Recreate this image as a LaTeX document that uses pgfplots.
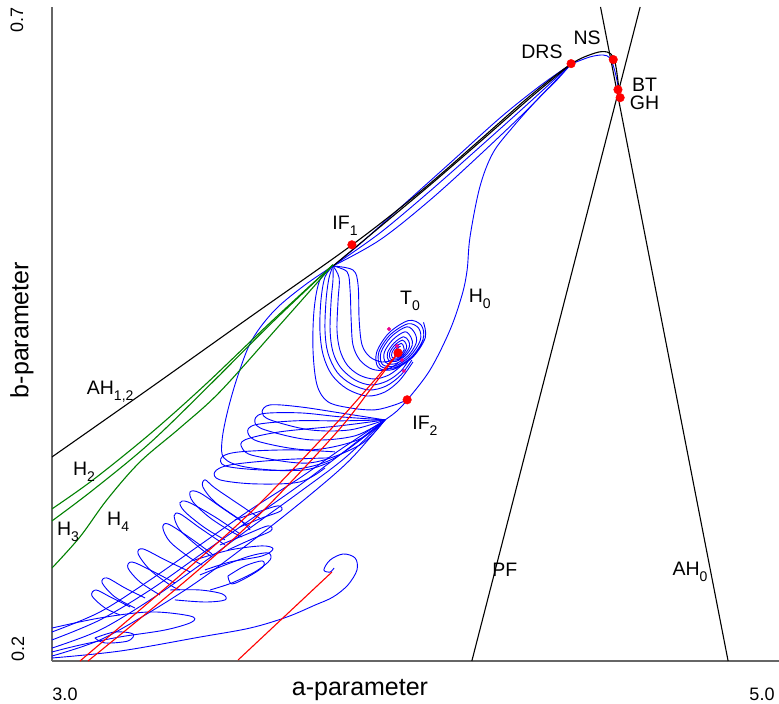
\documentclass[border=0pt]{standalone}
\usepackage{fontspec}
\setmainfont{Liberation Sans}
\usepackage{pgfplots}
\pgfplotsset{compat=1.18}
\newcommand\sub[1]{\raisebox{-6pt}{\fontsize{14}{14}\selectfont #1}}
\tikzset{
 bl/.style={blue, line width=0.9pt, smooth, tension=0.55},
 bk/.style={black, line width=1.1pt, smooth, tension=0.55},
 gr/.style={green!50!black, line width=1.1pt, smooth, tension=0.55},
 rd/.style={red, line width=1.1pt, smooth, tension=0.55},
 lab/.style={font=\fontsize{19.5}{22}\selectfont, inner sep=0pt},
}
\begin{document}
\begin{tikzpicture}
\begin{axis}[
 at={(0pt,0pt)}, anchor=south west,
 scale only axis, width=727pt, height=654pt,
 xmin=3, xmax=5, ymin=0.2, ymax=0.7,
 axis x line=bottom, axis y line=left,
 axis line style={-, draw=black!60, line width=1.3pt},
 xtick=\empty, ytick=\empty,
 clip mode=individual,
]
% ---------- blue: upper bundle to DRS ----------
\addplot[bl] coordinates {(3.773,0.5020)(3.847,0.5188)(3.957,0.5463)(4.095,0.5807)(4.232,0.6151)(4.342,0.6396)(4.428,0.6564)};
\addplot[bl] coordinates {(3.773,0.5020)(3.902,0.5272)(4.040,0.5593)(4.177,0.5930)(4.315,0.6274)(4.428,0.6564)};
\addplot[bl] coordinates {(3.773,0.5020)(3.902,0.5219)(4.040,0.5524)(4.177,0.5869)(4.315,0.6235)(4.428,0.6564)};
\addplot[bl] coordinates {(4.428,0.6564)(4.480,0.6618)(4.516,0.6633)(4.535,0.6610)(4.546,0.6534)(4.554,0.6442)(4.560,0.6350)};
% ---------- H0 ----------
\addplot[bl] coordinates {(3.916,0.3843)(3.946,0.3904)(3.977,0.3995)(4.040,0.4225)(4.095,0.4531)(4.128,0.4798)(4.142,0.4989)(4.150,0.5242)(4.177,0.5624)(4.213,0.5884)(4.268,0.6083)(4.334,0.6289)(4.389,0.6442)(4.428,0.6564)};
% ---------- big loop ----------
\addplot[bl] coordinates {(3.773,0.5020)(3.696,0.4875)(3.613,0.4683)(3.550,0.4454)(3.512,0.4187)(3.484,0.3920)(3.468,0.3691)(3.473,0.3553)(3.531,0.3484)(3.655,0.3461)(3.778,0.3553)(3.916,0.3843)};
% ---------- hooks ----------
\addplot[bl] coordinates {(3.773,0.5020)(3.737,0.4913)(3.721,0.4685)(3.718,0.4379)(3.729,0.4111)(3.759,0.3982)(3.820,0.3935)(3.888,0.3920)(3.943,0.3958)(3.977,0.3997)};
\addplot[bl] coordinates {(3.773,0.5020)(3.751,0.4936)(3.740,0.4760)(3.737,0.4531)(3.746,0.4339)(3.770,0.4187)(3.812,0.4080)(3.867,0.4026)(3.916,0.4057)(3.957,0.4148)(3.993,0.4286)};
\addplot[bl] coordinates {(3.773,0.5020)(3.762,0.4928)(3.754,0.4760)(3.751,0.4531)(3.759,0.4355)(3.784,0.4209)(3.823,0.4118)(3.872,0.4072)(3.919,0.4102)(3.960,0.4187)(3.990,0.4301)};
\addplot[bl] coordinates {(3.773,0.5020)(3.773,0.4913)(3.768,0.4760)(3.765,0.4531)(3.773,0.4362)(3.795,0.4240)(3.834,0.4148)(3.878,0.4110)(3.922,0.4141)(3.960,0.4217)(3.985,0.4317)};
\addplot[bl] coordinates {(3.773,0.5020)(3.790,0.4928)(3.787,0.4760)(3.784,0.4531)(3.792,0.4378)(3.812,0.4263)(3.845,0.4187)(3.886,0.4156)(3.927,0.4187)(3.960,0.4255)};
\addplot[bl] coordinates {(3.773,0.5020)(3.812,0.4974)(3.820,0.4836)(3.823,0.4607)(3.828,0.4416)(3.847,0.4301)(3.880,0.4232)(3.919,0.4225)(3.952,0.4278)};
\addplot[bl] coordinates {(3.773,0.5020)(3.828,0.4989)(3.842,0.4875)(3.845,0.4607)(3.853,0.4416)(3.875,0.4324)(3.908,0.4286)(3.941,0.4301)};
% ---------- spiral T0 ----------
\addplot[bl] coordinates {
(4.022,0.4589)(4.027,0.4473)(3.993,0.4324)(3.939,0.4229)(3.898,0.4243)(3.893,0.4359)(3.927,0.4508)(3.981,0.4603)
(4.016,0.4566)(4.021,0.4461)(3.990,0.4327)(3.942,0.4242)(3.904,0.4254)(3.899,0.4359)(3.930,0.4493)(3.979,0.4578)
(4.009,0.4543)(4.013,0.4451)(3.985,0.4331)(3.943,0.4255)(3.909,0.4267)(3.905,0.4359)(3.933,0.4479)(3.976,0.4555)
(3.998,0.4507)(4.002,0.4432)(3.980,0.4335)(3.945,0.4273)(3.918,0.4283)(3.914,0.4358)(3.937,0.4455)(3.971,0.4517)
(3.988,0.4472)(3.991,0.4414)(3.974,0.4339)(3.947,0.4291)(3.926,0.4298)(3.923,0.4356)(3.941,0.4431)(3.967,0.4479)
(3.981,0.4447)(3.983,0.4401)(3.969,0.4341)(3.948,0.4303)(3.931,0.4309)(3.929,0.4355)(3.943,0.4415)(3.964,0.4453)
(3.974,0.4424)(3.975,0.4389)(3.965,0.4344)(3.949,0.4316)(3.936,0.4320)(3.935,0.4355)(3.945,0.4400)(3.961,0.4428)
(3.967,0.4405)(3.969,0.4381)(3.962,0.4352)(3.951,0.4333)(3.943,0.4335)(3.942,0.4359)(3.948,0.4388)(3.959,0.4407)};
% ---------- feather bundle ----------
\addplot[bl] coordinates {(3.916,0.3843)(3.792,0.3614)(3.682,0.3400)(3.545,0.3155)(3.407,0.2887)(3.270,0.2620)(3.132,0.2375)(3.000,0.2222)};
\addplot[bl] coordinates {(3.916,0.3843)(3.792,0.3576)(3.682,0.3346)(3.545,0.3079)(3.407,0.2811)(3.270,0.2543)(3.132,0.2314)(3.000,0.2161)};
\addplot[bl] coordinates {(3.916,0.3843)(3.806,0.3553)(3.682,0.3293)(3.545,0.3017)(3.407,0.2734)(3.270,0.2467)(3.132,0.2237)(3.000,0.2099)};
\addplot[bl] coordinates {(3.916,0.3843)(3.820,0.3538)(3.710,0.3270)(3.572,0.2964)(3.407,0.2620)(3.270,0.2375)(3.132,0.2161)(3.000,0.2038)};
% ---------- feathers ----------
\addplot[bl] coordinates {(3.916,0.3843)(3.792,0.3897)(3.682,0.3943)(3.600,0.3958)(3.578,0.3905)(3.600,0.3844)(3.710,0.3767)(3.820,0.3767)(3.916,0.3843)};
\addplot[bl] coordinates {(3.916,0.3843)(3.792,0.3867)(3.682,0.3897)(3.578,0.3890)(3.558,0.3828)(3.586,0.3767)(3.710,0.3691)(3.833,0.3721)(3.916,0.3843)};
\addplot[bl] coordinates {(3.916,0.3843)(3.792,0.3836)(3.668,0.3836)(3.558,0.3805)(3.539,0.3744)(3.572,0.3675)(3.710,0.3614)(3.842,0.3691)(3.916,0.3843)};
\addplot[bl] coordinates {(3.916,0.3843)(3.792,0.3798)(3.627,0.3752)(3.531,0.3691)(3.523,0.3629)(3.558,0.3568)(3.710,0.3515)(3.847,0.3652)(3.916,0.3843)};
\addplot[bl] coordinates {(3.778,0.3599)(3.655,0.3614)(3.517,0.3599)(3.468,0.3561)(3.476,0.3492)(3.572,0.3461)(3.696,0.3461)(3.765,0.3522)};
\addplot[bl] coordinates {(3.765,0.3553)(3.627,0.3538)(3.490,0.3499)(3.448,0.3446)(3.462,0.3385)(3.558,0.3354)(3.682,0.3369)(3.751,0.3476)};
\addplot[bl] coordinates {(3.578,0.3079)(3.517,0.3193)(3.448,0.3323)(3.421,0.3385)(3.415,0.3331)(3.448,0.3216)(3.517,0.3079)(3.545,0.3002)};
\addplot[bl] coordinates {(3.545,0.3025)(3.476,0.3155)(3.407,0.3285)(3.380,0.3293)(3.388,0.3216)(3.435,0.3094)(3.495,0.2987)(3.523,0.2949)};
\addplot[bl] coordinates {(3.517,0.2972)(3.448,0.3102)(3.374,0.3216)(3.352,0.3209)(3.366,0.3140)(3.421,0.3017)(3.476,0.2926)};
\addplot[bl] coordinates {(3.476,0.2887)(3.407,0.3017)(3.352,0.3125)(3.336,0.3109)(3.352,0.3002)(3.407,0.2864)(3.440,0.2796)};
\addplot[bl] coordinates {(3.440,0.2819)(3.380,0.2941)(3.319,0.3048)(3.305,0.3017)(3.325,0.2910)(3.380,0.2788)(3.413,0.2734)};
\addplot[bl] coordinates {(3.380,0.2681)(3.311,0.2773)(3.250,0.2857)(3.237,0.2819)(3.270,0.2696)(3.325,0.2581)(3.352,0.2543)};
\addplot[bl] coordinates {(3.338,0.2597)(3.270,0.2696)(3.220,0.2757)(3.209,0.2711)(3.242,0.2604)(3.297,0.2505)};
\addplot[bl] coordinates {(3.256,0.2482)(3.201,0.2558)(3.151,0.2635)(3.138,0.2597)(3.173,0.2490)(3.228,0.2405)};
\addplot[bl] coordinates {(3.215,0.2413)(3.160,0.2490)(3.121,0.2543)(3.110,0.2497)(3.146,0.2405)(3.187,0.2352)};
\addplot[bl] coordinates {(3.407,0.2658)(3.476,0.2734)(3.545,0.2803)(3.594,0.2826)(3.600,0.2773)(3.558,0.2681)(3.495,0.2597)(3.435,0.2543)};
\addplot[bl] coordinates {(3.484,0.2650)(3.531,0.2727)(3.578,0.2765)(3.580,0.2719)(3.539,0.2643)(3.495,0.2589)(3.484,0.2650)};
\addplot[bl] coordinates {(3.503,0.3079)(3.567,0.3140)(3.622,0.3186)(3.630,0.3148)(3.578,0.3094)(3.517,0.3025)};
\addplot[bl] coordinates {(3.462,0.2887)(3.531,0.2964)(3.594,0.3033)(3.602,0.2995)(3.545,0.2926)(3.484,0.2849)};
\addplot[bl] coordinates {(3.393,0.2773)(3.490,0.2849)(3.578,0.2880)(3.608,0.2857)(3.578,0.2803)(3.490,0.2757)(3.421,0.2696)};
\addplot[bl] coordinates {(3.325,0.2543)(3.407,0.2543)(3.468,0.2513)(3.476,0.2467)(3.421,0.2451)(3.338,0.2467)};
\addplot[bl] coordinates {(3.000,0.2252)(3.132,0.2329)(3.270,0.2375)(3.380,0.2344)(3.385,0.2298)(3.311,0.2237)(3.187,0.2184)(3.077,0.2122)(3.000,0.2069)};
\addplot[bl] coordinates {(3.118,0.2176)(3.173,0.2222)(3.223,0.2207)(3.209,0.2153)(3.146,0.2138)(3.118,0.2176)};
% ---------- lower curve with small spiral ----------
\addplot[bl] coordinates {(3.000,0.2023)(3.187,0.2076)(3.407,0.2183)(3.545,0.2252)(3.646,0.2336)(3.724,0.2428)(3.773,0.2489)(3.814,0.2581)(3.839,0.2696)(3.834,0.2787)(3.801,0.2818)(3.765,0.2772)(3.748,0.2696)(3.765,0.2680)(3.776,0.2711)};
% ---------- black curves ----------
\addplot[bk] coordinates {(3.000,0.3560)(3.270,0.4087)(3.545,0.4630)(3.825,0.5180)(4.012,0.5586)(4.177,0.5983)(4.315,0.6320)(4.428,0.6564)(4.494,0.6648)(4.527,0.6656)(4.544,0.6618)(4.552,0.6534)(4.560,0.6365)};
\addplot[bk] coordinates {(3.773,0.5020)(3.902,0.5318)(4.040,0.5639)(4.177,0.5968)(4.315,0.6304)(4.428,0.6564)};
\addplot[black, line width=1.1pt] coordinates {(4.155,0.2)(4.618,0.7)};
\addplot[black, line width=1.1pt] coordinates {(4.860,0.2)(4.509,0.7)};
% ---------- green curves ----------
\addplot[gr] coordinates {(3.000,0.3163)(3.113,0.3385)(3.270,0.3737)(3.421,0.4111)(3.600,0.4586)(3.773,0.5029)};
\addplot[gr] coordinates {(3.000,0.3071)(3.113,0.3308)(3.270,0.3668)(3.440,0.4127)(3.605,0.4586)(3.773,0.5029)};
\addplot[gr] coordinates {(3.000,0.2711)(3.077,0.2949)(3.151,0.3232)(3.242,0.3522)(3.352,0.3782)(3.462,0.4058)(3.627,0.4570)(3.773,0.5029)};
% ---------- red curves ----------
\addplot[rd] coordinates {(3.077,0.2000)(3.360,0.2673)(3.553,0.3154)(3.765,0.3766)(3.883,0.4133)(3.952,0.4355)};
\addplot[rd] coordinates {(3.099,0.2000)(3.380,0.2642)(3.572,0.3124)(3.779,0.3735)(3.875,0.4072)(3.952,0.4355)};
\addplot[rd] coordinates {(3.512,0.2008)(3.641,0.2344)(3.770,0.2680)};
% ---------- points ----------
\addplot[only marks, mark=*, mark size=1.8pt, color=magenta] coordinates {(3.927,0.4538)(3.949,0.4408)(3.963,0.4301)(3.968,0.4217)};
\addplot[only marks, mark=*, mark size=4.3pt, color=red] coordinates {(3.825,0.5182)(3.977,0.3997)(4.428,0.6567)(4.544,0.6598)(4.557,0.6368)(4.563,0.6307)(3.952,0.4356)};
% ---------- labels ----------
\node[lab] at (axis cs:4.348,0.6659) {DRS};
\node[lab] at (axis cs:4.472,0.6766) {NS};
\node[lab] at (axis cs:4.630,0.6406) {BT};
\node[lab] at (axis cs:4.630,0.6269) {GH};
\node[lab] at (axis cs:3.806,0.5330) {IF\sub{1}};
\node[lab] at (axis cs:3.985,0.4750) {T\sub{0}};
\node[lab] at (axis cs:4.177,0.4765) {H\sub{0}};
\node[lab] at (axis cs:4.026,0.3795) {IF\sub{2}};
\node[lab] at (axis cs:3.160,0.4060) {AH\sub{1,2}};
\node[lab] at (axis cs:3.088,0.3450) {H\sub{2}};
\node[lab] at (axis cs:3.044,0.2990) {H\sub{3}};
\node[lab] at (axis cs:3.182,0.3067) {H\sub{4}};
\node[lab] at (axis cs:4.246,0.2696) {PF};
\node[lab] at (axis cs:4.755,0.2685) {AH\sub{0}};
\end{axis}
\node[font=\fontsize{18}{20}\selectfont] at (13pt,-33pt) {3.0};
\node[font=\fontsize{18}{20}\selectfont] at (710pt,-33pt) {5.0};
\node[font=\fontsize{18}{20}\selectfont, rotate=90] at (-35pt,641pt) {0.7};
\node[font=\fontsize{18}{20}\selectfont, rotate=90] at (-34pt,12pt) {0.2};
\node[font=\fontsize{25}{28}\selectfont] at (308pt,-29pt) {a-parameter};
\node[font=\fontsize{25}{28}\selectfont, rotate=90] at (-30pt,331pt) {b-parameter};
\pgfresetboundingbox
\path[use as bounding box] (-52pt,-43pt) rectangle (727pt,661pt);
\end{tikzpicture}
\end{document}
